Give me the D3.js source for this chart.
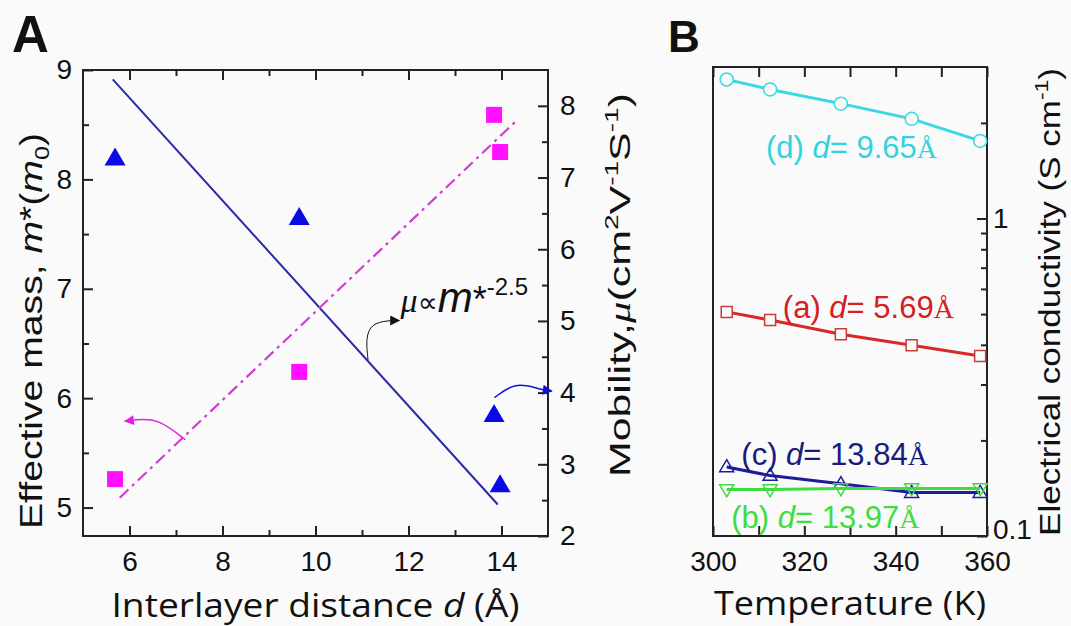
<!DOCTYPE html>
<html>
<head>
<meta charset="utf-8">
<style>
    body { margin: 0; background: #fafafa; }
    svg { display: block; font-family: 'Liberation Sans', Arial, sans-serif; }
    .tick text { font-size: 28px; fill: #111; font-family: 'Liberation Sans', Arial, sans-serif; }
    .tick line { stroke: #222; stroke-width: 2; }
    .domain { display: none; }
    .frame { fill: none; stroke: #222; stroke-width: 2; }
</style>
</head>
<body>
<svg width="1071" height="626"></svg>

<script src="https://d3js.org/d3.v7.min.js"></script>
<script>
    // ---- panel A data ----
    let distances = [5.69, 9.65, 13.84, 13.97];
    let mobility = [7.27, 6.44, 3.69, 2.71];       // blue triangles, right axis
    let effMass = [5.26, 6.24, 8.59, 8.25];        // magenta squares, left axis
    let mobilityFit = [[5.64, 8.37], [13.92, 2.44]];
    let massFit = [[5.79, 5.09], [14.33, 8.54]];

    let ticksAx = [6, 8, 10, 12, 14];
    let minorAx = [7, 9, 11, 13];
    let ticksAy = [5, 6, 7, 8, 9];
    let minorAy = [5.5, 6.5, 7.5, 8.5];
    let ticksAy2 = [2, 3, 4, 5, 6, 7, 8];
    let minorAy2 = [2.5, 3.5, 4.5, 5.5, 6.5, 7.5];

    // ---- panel B data ----
    let temps = [303, 312.5, 328, 343.5, 358.5];
    let sigmaD = [2.74, 2.55, 2.30, 2.06, 1.755];   // 9.65 A, cyan circles
    let sigmaA = [0.508, 0.479, 0.432, 0.399, 0.369]; // 5.69 A, red squares
    let sigmaC = [0.165, 0.155, 0.146, 0.137, 0.137]; // 13.84 A, navy triangles
    let sigmaB = [0.140, 0.140, 0.141, 0.141, 0.141]; // 13.97 A, green down-triangles

    let ticksBx = [300, 320, 340, 360];
    let minorBx = [310, 330, 350];
    let ticksBy = [0.1, 1];
    let minorBy = [0.2, 0.3, 0.4, 0.5, 0.6, 0.7, 0.8, 0.9, 2];

    let svg = d3.select("svg");
    let fmt = d3.format("d");

    // ================= PANEL A =================
    let xA = d3.scaleLinear().domain([5, 15]).range([83, 548]);
    let yA = d3.scaleLinear().domain([4.74, 9]).range([536, 70]);
    let yA2 = d3.scaleLinear().domain([2, 8.5]).range([536, 70]);

    let gA = svg.append("g");

    gA.append("g").attr("transform", "translate(0,536)")
        .call(d3.axisBottom(xA).tickValues(ticksAx).tickSize(-10).tickPadding(15).tickFormat(fmt));
    gA.append("g").attr("transform", "translate(0,536)")
        .call(d3.axisBottom(xA).tickValues(minorAx).tickSize(-6).tickFormat(""));
    gA.append("g").attr("transform", "translate(0,70)")
        .call(d3.axisTop(xA).tickValues(ticksAx).tickSize(-10).tickFormat(""));
    gA.append("g").attr("transform", "translate(0,70)")
        .call(d3.axisTop(xA).tickValues(minorAx).tickSize(-6).tickFormat(""));

    gA.append("g").attr("transform", "translate(83,0)")
        .call(d3.axisLeft(yA).tickValues(ticksAy).tickSize(-10).tickPadding(11).tickFormat(fmt));
    gA.append("g").attr("transform", "translate(83,0)")
        .call(d3.axisLeft(yA).tickValues(minorAy).tickSize(-6).tickFormat(""));

    gA.append("g").attr("transform", "translate(548,0)")
        .call(d3.axisRight(yA2).tickValues(ticksAy2).tickSize(-10).tickPadding(12).tickFormat(fmt));
    gA.append("g").attr("transform", "translate(548,0)")
        .call(d3.axisRight(yA2).tickValues(minorAy2).tickSize(-6).tickFormat(""));

    gA.append("rect").attr("class", "frame")
        .attr("x", xA(5)).attr("y", yA2(8.5))
        .attr("width", xA(15) - xA(5)).attr("height", yA2(2) - yA2(8.5));

    // fit lines
    gA.append("path")
        .attr("d", d3.line().x(d => xA(d[0])).y(d => yA2(d[1]))(mobilityFit))
        .attr("stroke", "#2a2aa8").attr("stroke-width", 2).attr("fill", "none");
    gA.append("path")
        .attr("d", d3.line().x(d => xA(d[0])).y(d => yA(d[1]))(massFit))
        .attr("stroke", "#d23cd2").attr("stroke-width", 2.2).attr("fill", "none")
        .attr("stroke-dasharray", "12,5,3,5");

    // markers
    function tri(cx, cy, w, h, down) {
        let s = down ? -1 : 1;
        return `M${cx},${cy - s * h * 0.6}L${cx + w / 2},${cy + s * h * 0.4}L${cx - w / 2},${cy + s * h * 0.4}Z`;
    }

    gA.selectAll(".mob").data(distances).join("path")
        .attr("class", "mob")
        .attr("d", (d, i) => tri(xA(d), yA2(mobility[i]), 21, 18))
        .attr("fill", "#0a0ae6");

    gA.selectAll(".mass").data(distances).join("rect")
        .attr("class", "mass")
        .attr("x", d => xA(d) - 8)
        .attr("y", (d, i) => yA(effMass[i]) - 8)
        .attr("width", 16).attr("height", 16)
        .attr("fill", "#ff10ff");

    // arrow heads
    let defs = svg.append("defs");
    [["headK", "#111"], ["headM", "#e020e0"], ["headB", "#1010d8"]].forEach(function (m) {
        defs.append("marker").attr("id", m[0])
            .attr("viewBox", "0 0 10 10").attr("refX", 9).attr("refY", 5)
            .attr("markerWidth", 14).attr("markerHeight", 10)
            .attr("markerUnits", "userSpaceOnUse")
            .attr("orient", "auto")
            .append("path").attr("d", "M0,0L10,5L0,10Z").attr("fill", m[1]);
    });

    // annotation anchors, in data units [d, value]
    let arrowFit = [[11.13, 6.35], [11.08, 6.55], [11.2, 6.68], [11.55, 6.71], [11.8, 6.71]]; // left axis units
    let arrowMass = [[7.2, 5.62], [6.6, 5.82], [6.1, 5.8], [5.9, 5.79]];      // left axis units
    let arrowMob = [[13.85, 3.93], [14.3, 4.15], [14.8, 4.05], [15.08, 4.02]]; // right axis units

    let curve = d3.line().curve(d3.curveBasis);
    gA.append("path")
        .attr("d", curve(arrowFit.map(d => [xA(d[0]), yA(d[1])])))
        .attr("stroke", "#111").attr("stroke-width", 1).attr("fill", "none")
        .attr("marker-end", "url(#headK)");
    gA.append("path")
        .attr("d", curve(arrowMass.map(d => [xA(d[0]), yA(d[1])])))
        .attr("stroke", "#e020e0").attr("stroke-width", 1.5).attr("fill", "none")
        .attr("marker-end", "url(#headM)");
    gA.append("path")
        .attr("d", curve(arrowMob.map(d => [xA(d[0]), yA2(d[1])])))
        .attr("stroke", "#1010d8").attr("stroke-width", 1.5).attr("fill", "none")
        .attr("marker-end", "url(#headB)");

    // mu proportional label
    let mu = gA.append("text").attr("x", xA(11.83)).attr("y", yA(6.79)).attr("fill", "#111");
    mu.append("tspan").text("μ").attr("font-size", 34).attr("font-style", "italic")
        .attr("font-family", "'Liberation Serif', serif");
    mu.append("tspan").text("∝").attr("font-size", 28).attr("font-family", "'DejaVu Sans', sans-serif");
    mu.append("tspan").text("m").attr("font-size", 42).attr("font-style", "italic");
    mu.append("tspan").text("*").attr("font-size", 36);
    mu.append("tspan").text("-2.5").attr("font-size", 24).attr("dy", -17);

    // labels
    svg.append("text").attr("x", 12).attr("y", 52)
        .attr("font-size", 51).attr("font-weight", "bold").attr("fill", "#111").text("A");

    let xlabA = svg.append("text").attr("x", xA(10)).attr("y", 617)
        .attr("text-anchor", "middle").attr("font-size", 33)
        .attr("textLength", 408).attr("lengthAdjust", "spacingAndGlyphs")
        .attr("font-family", "'Open Sans', sans-serif").attr("fill", "#111");
    xlabA.append("tspan").text("Interlayer distance ");
    xlabA.append("tspan").text("d").attr("font-style", "italic");
    xlabA.append("tspan").text(" (Å)");

    let ylabA = svg.append("text")
        .attr("transform", "translate(42,331) rotate(-90)")
        .attr("text-anchor", "middle").attr("font-size", 31)
        .attr("textLength", 396).attr("lengthAdjust", "spacingAndGlyphs")
        .attr("fill", "#111");
    ylabA.append("tspan").text("Effective mass, ");
    ylabA.append("tspan").text("m").attr("font-style", "italic");
    ylabA.append("tspan").text("*(");
    ylabA.append("tspan").text("m").attr("font-style", "italic");
    ylabA.append("tspan").text("0").attr("font-size", 20).attr("dy", 7);
    ylabA.append("tspan").text(")").attr("dy", -7);

    let ylabA2 = svg.append("text")
        .attr("transform", "translate(630,285) rotate(-90)")
        .attr("text-anchor", "middle").attr("font-size", 29)
        .attr("textLength", 384).attr("lengthAdjust", "spacingAndGlyphs")
        .attr("fill", "#111");
    ylabA2.append("tspan").text("Mobility,");
    ylabA2.append("tspan").text("μ").attr("font-style", "italic").attr("font-family", "'Liberation Serif', serif");
    ylabA2.append("tspan").text("(cm");
    ylabA2.append("tspan").text("2").attr("font-size", 19).attr("dy", -12);
    ylabA2.append("tspan").text("V").attr("dy", 12);
    ylabA2.append("tspan").text("-1").attr("font-size", 19).attr("dy", -12);
    ylabA2.append("tspan").text("S").attr("dy", 12);
    ylabA2.append("tspan").text("-1").attr("font-size", 19).attr("dy", -12);
    ylabA2.append("tspan").text(")").attr("dy", 12);

    // ================= PANEL B =================
    let xB = d3.scaleLinear().domain([300, 360]).range([713, 987]);
    let yB = d3.scaleLog().domain([0.1, 3]).range([536, 67]);

    let gB = svg.append("g");

    gB.append("g").attr("transform", "translate(0,536)")
        .call(d3.axisBottom(xB).tickValues(ticksBx).tickSize(-10).tickPadding(15).tickFormat(fmt));
    gB.append("g").attr("transform", "translate(0,536)")
        .call(d3.axisBottom(xB).tickValues(minorBx).tickSize(-10).tickFormat(""));
    gB.append("g").attr("transform", "translate(0,67)")
        .call(d3.axisTop(xB).tickValues(ticksBx.concat(minorBx)).tickSize(-10).tickFormat(""));

    gB.append("g").attr("transform", "translate(987,0)")
        .call(d3.axisRight(yB).tickValues(ticksBy).tickSize(-10).tickPadding(6)
            .tickFormat(d => d < 1 ? "0.1" : "1"));
    gB.append("g").attr("transform", "translate(987,0)")
        .call(d3.axisRight(yB).tickValues(minorBy).tickSize(-6).tickFormat(""));
    // pull 0.1 a little up like the original
    gB.selectAll(".tick text").filter(d => d === 0.1).attr("dy", "0.1em");

    gB.append("rect").attr("class", "frame")
        .attr("x", xB(300)).attr("y", yB(3))
        .attr("width", xB(360) - xB(300)).attr("height", yB(0.1) - yB(3));

    let series = [
        { vals: sigmaD, color: "#3ad8e2", shape: "circle" },
        { vals: sigmaA, color: "#d82828", shape: "square" },
        { vals: sigmaC, color: "#1c1c9c", shape: "up" },
        { vals: sigmaB, color: "#3fdc3f", shape: "down" }
    ];

    let lineB = d3.line().x((d, i) => xB(temps[i])).y(d => yB(d));

    series.forEach(function (s) {
        let g = gB.append("g");
        g.append("path").attr("d", lineB(s.vals))
            .attr("stroke", s.color).attr("stroke-width", 3).attr("fill", "none");
        g.selectAll(".pt").data(s.vals).join("path").attr("class", "pt")
            .attr("fill", "#fafafa").attr("fill-opacity", s.shape === "circle" || s.shape === "square" ? 1 : 0)
            .attr("stroke", s.shape === "square" ? "#c83c3c" : s.color)
            .attr("stroke-width", 1.5)
            .attr("d", function (d, i) {
                let cx = xB(temps[i]), cy = yB(d);
                if (s.shape === "circle") return `M${cx + 6.5},${cy}A6.5,6.5 0 1,1 ${cx - 6.5},${cy}A6.5,6.5 0 1,1 ${cx + 6.5},${cy}Z`;
                if (s.shape === "square") return `M${cx - 5.5},${cy - 5.5}h11v11h-11Z`;
                return tri(cx, cy, 14, 12, s.shape === "down");
            });
    });

    // curve labels, anchored in data units [T, sigma]
    let curveLabels = [
        { t: 311.6, v: 1.55, pre: "(d) ", num: "= 9.65", color: "#33d2de" },
        { t: 315.3, v: 0.486, pre: "(a) ", num: "= 5.69", color: "#d42020" },
        { t: 306.2, v: 0.1673, pre: "(c) ", num: "= 13.84", color: "#1a1a7a" },
        { t: 304.0, v: 0.1057, pre: "(b) ", num: "= 13.97", color: "#40dd40" }
    ];
    curveLabels.forEach(function (c) {
        let t = gB.append("text").attr("x", xB(c.t)).attr("y", yB(c.v))
            .attr("font-size", 31).attr("fill", c.color);
        t.append("tspan").text(c.pre);
        t.append("tspan").text("d").attr("font-style", "italic");
        t.append("tspan").text(c.num);
        t.append("tspan").text("Å").attr("font-family", "'Liberation Serif', serif").attr("font-size", 28);
    });

    svg.append("text").attr("x", 668).attr("y", 52)
        .attr("font-size", 44).attr("font-weight", "bold").attr("fill", "#111").text("B");

    svg.append("text").attr("x", xB(330)).attr("y", 615)
        .attr("text-anchor", "middle").attr("font-size", 33)
        .attr("textLength", 272).attr("lengthAdjust", "spacingAndGlyphs")
        .attr("font-family", "'Open Sans', sans-serif").attr("fill", "#111")
        .text("Temperature (K)");

    let ylabB = svg.append("text")
        .attr("transform", "translate(1060,302) rotate(-90)")
        .attr("text-anchor", "middle").attr("font-size", 29)
        .attr("textLength", 468).attr("lengthAdjust", "spacingAndGlyphs")
        .attr("fill", "#111");
    ylabB.append("tspan").text("Electrical conductivity (S cm");
    ylabB.append("tspan").text("-1").attr("font-size", 19).attr("dy", -12);
    ylabB.append("tspan").text(")").attr("dy", 12);
</script>
</body>
</html>
